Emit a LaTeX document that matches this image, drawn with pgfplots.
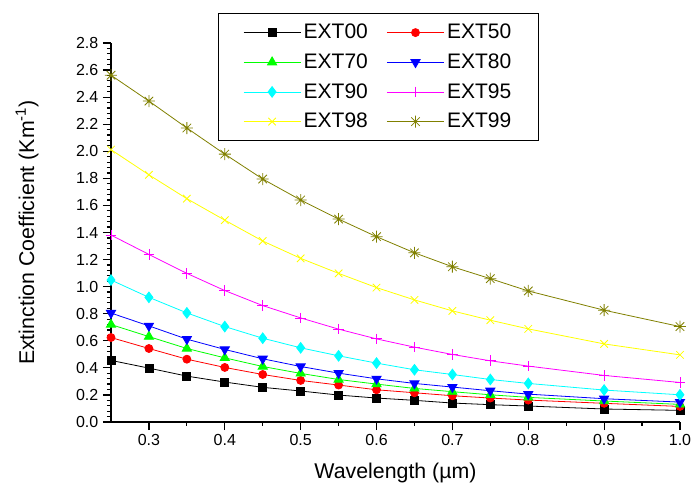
\documentclass[border=0pt]{standalone}
\usepackage{fontspec}
\setmainfont{Liberation Sans}
\usepackage{pgfplots}
\usepackage{pgfplotstable}
\pgfplotsset{compat=1.18}
\definecolor{cgreen}{RGB}{0,255,0}
\definecolor{ccyan}{RGB}{0,255,255}
\definecolor{cmag}{RGB}{255,0,255}
\definecolor{cyel}{RGB}{255,255,0}
\definecolor{colive}{RGB}{128,128,0}
\pgfdeclareplotmark{ast8}{%
  \pgfpathmoveto{\pgfqpoint{-\pgfplotmarksize}{0pt}}\pgfpathlineto{\pgfqpoint{\pgfplotmarksize}{0pt}}%
  \pgfpathmoveto{\pgfqpoint{0pt}{-\pgfplotmarksize}}\pgfpathlineto{\pgfqpoint{0pt}{\pgfplotmarksize}}%
  \pgfpathmoveto{\pgfqpoint{-0.707\pgfplotmarksize}{-0.707\pgfplotmarksize}}\pgfpathlineto{\pgfqpoint{0.707\pgfplotmarksize}{0.707\pgfplotmarksize}}%
  \pgfpathmoveto{\pgfqpoint{-0.707\pgfplotmarksize}{0.707\pgfplotmarksize}}\pgfpathlineto{\pgfqpoint{0.707\pgfplotmarksize}{-0.707\pgfplotmarksize}}%
  \pgfusepathqstroke}
\pgfplotstableread{
x    e00   e50   e70   e80   e90   e95   e98   e99
0.25 0.455 0.624 0.720 0.805 1.049 1.381 2.012 2.562
0.30 0.398 0.543 0.631 0.710 0.921 1.238 1.826 2.371
0.35 0.339 0.464 0.543 0.612 0.806 1.098 1.650 2.172
0.40 0.295 0.403 0.474 0.536 0.705 0.971 1.491 1.979
0.45 0.256 0.351 0.410 0.467 0.619 0.860 1.337 1.795
0.50 0.229 0.307 0.359 0.410 0.548 0.769 1.209 1.640
0.55 0.199 0.273 0.314 0.361 0.489 0.686 1.098 1.499
0.60 0.177 0.238 0.280 0.319 0.435 0.614 0.993 1.369
0.65 0.160 0.216 0.248 0.285 0.386 0.553 0.902 1.250
0.70 0.140 0.194 0.224 0.258 0.351 0.499 0.821 1.147
0.75 0.128 0.177 0.201 0.231 0.314 0.452 0.752 1.059
0.80 0.118 0.162 0.182 0.206 0.285 0.413 0.688 0.968
0.90 0.096 0.138 0.155 0.172 0.236 0.344 0.577 0.826
1.00 0.086 0.115 0.130 0.147 0.201 0.292 0.496 0.705
}\datatable
\begin{document}
\begin{tikzpicture}
\begin{axis}[
  scale only axis,
  width=426.75pt, height=284.25pt,
  xmin=0.25, xmax=1.0, ymin=0, ymax=2.8,
  axis x line*=bottom, axis y line*=left,
  axis line style={line width=1pt,-},
  tick align=outside,
  major tick length=6pt, minor tick length=3pt,
  every tick/.style={black, line width=0.9pt},
  xtick={0.3,0.4,...,1.0},
  minor x tick num=1,
  ytick={0,0.2,...,2.8},
  minor y tick num=4,
  /pgf/number format/assume math mode=true,
  xticklabel style={/pgf/number format/.cd,fixed,fixed zerofill,precision=1},
  yticklabel style={/pgf/number format/.cd,fixed,fixed zerofill,precision=1},
  ticklabel style={font=\fontsize{12}{14}\selectfont},
  xlabel={Wavelength (µm)},
  ylabel={Extinction Coefficient (Km\textsuperscript{-1})},
  label style={font=\fontsize{16}{19}\selectfont},
  xlabel style={at={(axis description cs:0.5,-0.1346)},anchor=center},
  ylabel style={at={(axis description cs:-0.1476,0.5)},anchor=center},
  legend columns=2,
  legend cell align=left,
  legend style={at={(rel axis cs:0.188,1.079)},anchor=north west,
    font=\fontsize{15.75}{18}\selectfont, draw=black, line width=0.8pt,
    inner xsep=18.5pt, inner ysep=6pt, row sep=5.75pt,
    /tikz/every even column/.append style={column sep=12pt}},
  legend image code/.code={\draw[mark repeat=2,mark phase=2,line width=0.6pt] plot coordinates {(0pt,0pt) (21.4pt,0pt) (42.8pt,0pt)};},
  every axis plot/.append style={line width=0.6pt},
]
\addplot[black, mark=square*, mark size=3pt, mark options={solid}] table[x=x,y=e00]{\datatable};
\addlegendentry{EXT00}
\addplot[red, mark=*, mark size=3pt] table[x=x,y=e50]{\datatable};
\addlegendentry{EXT50}
\addplot[cgreen, mark=triangle*, mark size=4pt] table[x=x,y=e70]{\datatable};
\addlegendentry{EXT70}
\addplot[blue, mark=triangle*, mark size=4pt, mark options={rotate=180}] table[x=x,y=e80]{\datatable};
\addlegendentry{EXT80}
\addplot[ccyan, mark=diamond*, mark size=4pt] table[x=x,y=e90]{\datatable};
\addlegendentry{EXT90}
\addplot[cmag, mark=+, mark size=4pt] table[x=x,y=e95]{\datatable};
\addlegendentry{EXT95}
\addplot[cyel, mark=x, mark size=4pt] table[x=x,y=e98]{\datatable};
\addlegendentry{EXT98}
\addplot[colive, mark=ast8, mark size=4.5pt] table[x=x,y=e99]{\datatable};
\addlegendentry{EXT99}
\end{axis}
\pgfresetboundingbox
\path[use as bounding box] (-83.25pt,-50.25pt) rectangle (436.5pt,316.5pt);
\end{tikzpicture}
\end{document}
